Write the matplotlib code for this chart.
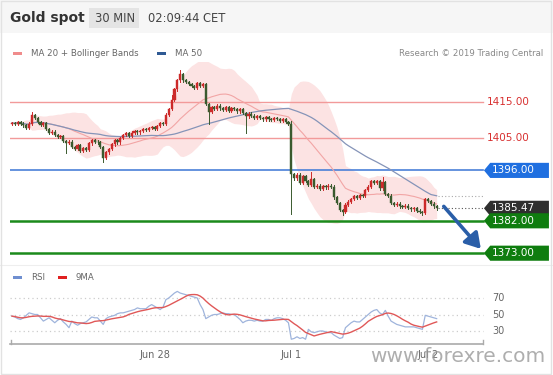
import numpy as np
import pandas as pd
import matplotlib
matplotlib.use("Agg")
import matplotlib.pyplot as plt
from matplotlib.patches import Polygon, Rectangle

# 30 min closes, Gold spot
closes = [
    1409.2, 1409.0, 1409.5, 1409.0, 1408.5, 1407.8, 1409.0, 1411.3, 1410.5, 1409.5,
    1408.6, 1409.2, 1407.5, 1406.5, 1406.8, 1405.9, 1405.3, 1405.6, 1404.2, 1403.6,
    1404.0, 1402.5, 1402.0, 1403.0, 1401.5, 1402.2, 1401.8, 1403.5, 1404.4, 1404.0,
    1403.8, 1402.5, 1399.5, 1401.0, 1402.0, 1403.2, 1404.4, 1403.8, 1405.0, 1405.8,
    1406.4, 1405.6, 1406.5, 1407.0, 1406.6, 1407.0, 1407.4, 1407.2, 1407.8, 1408.0,
    1407.5, 1408.3, 1409.2, 1409.0, 1411.5, 1413.0, 1415.5, 1418.5, 1421.0, 1422.8,
    1421.0, 1420.5, 1420.0, 1419.5, 1419.0, 1420.2, 1419.4, 1420.0, 1414.5, 1412.2,
    1413.5, 1413.0, 1414.0, 1413.2, 1412.8, 1413.5, 1412.6, 1413.2, 1413.0, 1412.4,
    1413.0, 1412.0, 1411.0, 1411.8, 1411.2, 1410.6, 1411.0, 1410.5, 1410.2, 1410.8,
    1410.2, 1410.0, 1410.6, 1410.3, 1409.8, 1410.2, 1409.5, 1409.0, 1395.0, 1393.8,
    1394.8, 1392.5, 1394.5, 1393.0, 1392.0, 1393.5, 1391.5, 1391.8, 1390.8, 1391.6,
    1391.3, 1391.8, 1391.5, 1388.5, 1387.0, 1385.0, 1384.5, 1386.5, 1387.3, 1388.0,
    1388.8, 1388.4, 1389.2, 1389.0, 1390.5, 1391.5, 1393.0, 1392.5, 1393.0, 1391.0,
    1392.8, 1389.5, 1389.0, 1387.0, 1386.4, 1386.8, 1386.0, 1385.8, 1386.2, 1385.5,
    1385.2, 1385.6, 1384.8, 1384.5, 1384.2, 1388.0, 1387.5, 1386.8, 1386.0, 1385.47,
]
first_open = 1409.0
high_spikes = {7: 1412.3, 59: 1424.0, 56: 1417.0, 105: 1395.5, 130: 1394.2, 98: 1409.6}
low_spikes = {19: 1400.8, 32: 1398.3, 69: 1408.8, 82: 1406.4, 98: 1383.8, 116: 1383.5, 144: 1383.6}

# RSI(14)
rsi_values = [
    48, 47, 45, 44, 46, 49, 52, 51, 50, 50,
    46, 42, 44, 46, 43, 40, 43, 45, 41, 38,
    34, 42, 39, 37, 39, 40, 41, 44, 47, 46,
    46, 42, 38, 45, 47, 48, 49, 51, 52, 52,
    53, 54, 55, 56, 58, 57, 57, 57, 60, 62,
    60, 58, 56, 59, 68, 70, 73, 76, 78, 76,
    75, 74, 73, 72, 71, 70, 62, 56, 45, 47,
    49, 50, 50, 51, 52, 51, 51, 50, 50, 47,
    44, 40, 42, 43, 43, 42, 43, 42, 42, 44,
    44, 43, 45, 46, 46, 45, 43, 40, 20, 21,
    23, 21, 22, 20, 32, 29, 28, 29, 30, 30,
    29, 28, 28, 25, 23, 21, 22, 34, 37, 40,
    42, 41, 41, 44, 47, 50, 53, 55, 56, 52,
    50, 55, 48, 42, 40, 38, 37, 36, 35, 35,
    35, 35, 34, 33, 32, 49, 48, 47, 46, 45,
]

levels_red = [1415.0, 1405.0]
level_blue = 1396.0
levels_green = [1382.0, 1373.0]
last_price = 1385.47

day_ticks = [50, 98, 146]
day_labels = ["Jun 28", "Jul 1", "Jul 2"]
rsi_ticks = [70, 50, 30]

# indicators
s = pd.Series(closes)
ma20 = s.rolling(20, min_periods=1).mean()
sd20 = s.rolling(20, min_periods=2).std().bfill()
ma50 = s.rolling(50, min_periods=1).mean()
rsi = pd.Series(rsi_values, dtype=float)
rsi_ma = rsi.rolling(9, min_periods=1).mean()

W, H = 553, 375
fig = plt.figure(figsize=(W / 100, H / 100), dpi=100)
fig.patch.set_facecolor("white")


def fx(px):
    return px / W


def fy(py):
    return 1 - py / H


# header
fig.patches.append(Rectangle((0, fy(33)), 1, 33 / H, transform=fig.transFigure,
                             facecolor="#f6f6f6", edgecolor="none", zorder=0))
fig.patches.append(Rectangle((fx(89), fy(28)), 50 / W, 20 / H, transform=fig.transFigure,
                             facecolor="#e4e4e4", edgecolor="none", zorder=1))
fig.patches.append(Rectangle((0.002, 0.003), 0.995, 0.994, transform=fig.transFigure,
                             facecolor="none", edgecolor="#e2e2e2", lw=1, zorder=5))
fig.text(fx(10), fy(18), "Gold spot", fontsize=10, fontweight="bold", color="#333333", va="center")
fig.text(fx(95), fy(18), "30 MIN", fontsize=8.3, color="#444444", va="center")
fig.text(fx(148), fy(18), "02:09:44 CET", fontsize=8.3, color="#444444", va="center")

# legends
fig.patches.append(Rectangle((fx(13), fy(55)), 9 / W, 3 / H, transform=fig.transFigure,
                             facecolor="#f08c8c", edgecolor="none"))
fig.text(fx(31), fy(53.5), "MA 20 + Bollinger Bands", fontsize=6.2, color="#666666", va="center")
fig.patches.append(Rectangle((fx(157), fy(55)), 9 / W, 3 / H, transform=fig.transFigure,
                             facecolor="#2f5a94", edgecolor="none"))
fig.text(fx(175), fy(53.5), "MA 50", fontsize=6.2, color="#666666", va="center")
fig.text(fx(543), fy(53.5), "Research \u00a9 2019 Trading Central", fontsize=6.2,
         color="#888888", va="center", ha="right")

fig.patches.append(Rectangle((fx(13), fy(279)), 9 / W, 3 / H, transform=fig.transFigure,
                             facecolor="#6f8fd0", edgecolor="none"))
fig.text(fx(31), fy(277.5), "RSI", fontsize=6.2, color="#666666", va="center")
fig.patches.append(Rectangle((fx(58), fy(279)), 9 / W, 3 / H, transform=fig.transFigure,
                             facecolor="#e02020", edgecolor="none"))
fig.text(fx(76), fy(277.5), "9MA", fontsize=6.2, color="#666666", va="center")

# main price panel
px_per_bar = 2.85
x0 = (10 - 12) / px_per_bar
x1 = (553 - 12) / px_per_bar
xend = (483 - 12) / px_per_bar
ax = fig.add_axes([fx(10), fy(262), fx(543), 200 / H])
ax.set_xlim(x0, x1)
ppu = 3.6
ax.set_ylim(1415 - (262 - 102) / ppu, 1415 + (102 - 62) / ppu)
ax.axis("off")

idx = np.arange(len(closes))
ax.fill_between(idx, ma20 + 2 * sd20, ma20 - 2 * sd20, color="#fcdcdc", alpha=0.8, lw=0, zorder=1)
ax.plot(idx, ma20, color="#f2a5a5", lw=0.8, zorder=2)
ax.plot(idx, ma50, color="#8594b8", lw=0.9, zorder=2)

for y in levels_red:
    ax.plot([x0, xend], [y, y], color="#f29a9a", lw=1, zorder=1.5)
    ax.text(166.5, y, f"{y:.2f}", color="#d83030", fontsize=7.5, va="center", ha="left")
ax.plot([x0, xend], [level_blue, level_blue], color="#4a80d8", lw=1.2, zorder=1.5)
for y in levels_green:
    ax.plot([x0, xend], [y, y], color="#1b8a1b", lw=1.8, zorder=1.5)

opens = [first_open] + closes[:-1]
for i, (o, c) in enumerate(zip(opens, closes)):
    up = c >= o
    col = "#cc2a2a" if up else "#3a5a2e"
    hi = high_spikes.get(i, max(o, c) + 0.35)
    lo = low_spikes.get(i, min(o, c) - 0.35)
    ax.plot([i, i], [lo, hi], color=col, lw=0.7, zorder=3)
    ax.add_patch(Rectangle((i - 0.38, min(o, c)), 0.76, max(abs(c - o), 0.15),
                           facecolor=col, edgecolor=col, lw=0.3, zorder=4))

# dotted guides from last bar
n = len(closes) - 1
ax.plot([n + 0.5, xend], [last_price, last_price], color="#555555", lw=0.8, ls=(0, (1, 2)), zorder=2)
ax.plot([n + 0.5, xend], [ma50.iloc[-1], ma50.iloc[-1]], color="#aaaaaa", lw=0.8, ls=(0, (1, 2)), zorder=2)


def tag(y, text, color):
    h = 2.1
    pts = [(165.6, y), (167.8, y + h), (188.4, y + h), (188.4, y - h), (167.8, y - h)]
    ax.add_patch(Polygon(pts, closed=True, facecolor=color, edgecolor="none", zorder=5, clip_on=False))
    ax.text(168.5, y, text, color="white", fontsize=7.5, va="center", ha="left", zorder=6)


tag(level_blue, f"{level_blue:.2f}", "#1f6fe0")
tag(last_price, f"{last_price:.2f}", "#2f2f2f")
tag(levels_green[0], f"{levels_green[0]:.2f}", "#0f7d0f")
tag(levels_green[1], f"{levels_green[1]:.2f}", "#0f7d0f")

ax.annotate("", xy=(164.5, 1374.2), xytext=(151.5, 1386.0),
            arrowprops=dict(arrowstyle="-|>,head_length=0.9,head_width=0.55",
                            color="#2a5ea8", lw=2.6, shrinkA=0, shrinkB=0), zorder=6)

# separator
fig.lines.append(plt.Line2D([fx(0), fx(553)], [fy(265), fy(265)], transform=fig.transFigure,
                            color="#eeeeee", lw=0.8))

# RSI panel
rx = fig.add_axes([fx(10), fy(345), fx(543), 60 / H])
rx.set_xlim(x0, x1)
rppu = 0.825
rx.set_ylim(30 - 14 / rppu, 30 + 46 / rppu)
rx.axis("off")
for t in rsi_ticks:
    rx.plot([x0, xend], [t, t], color="#cccccc", lw=0.9, ls=(0, (1, 2.5)), zorder=1)
    rx.text(168.5, t, str(t), color="#666666", fontsize=7, va="center", ha="left")
rx.plot(idx, rsi, color="#9fb4dc", lw=0.9, zorder=2)
rx.plot(idx, rsi_ma, color="#e05858", lw=1.0, zorder=3)

# time axis bracket
fig.lines.append(plt.Line2D([fx(10), fx(483)], [fy(344), fy(344)], transform=fig.transFigure,
                            color="#aaaaaa", lw=1.2))
for xp in (10.5, 482.5):
    fig.lines.append(plt.Line2D([fx(xp), fx(xp)], [fy(344), fy(340)], transform=fig.transFigure,
                                color="#aaaaaa", lw=1.0))
for t, lab in zip(day_ticks, day_labels):
    fig.text(fx(12 + t * px_per_bar), fy(355), lab, fontsize=7, color="#666666", ha="center", va="center")

fig.text(fx(545), fy(357), "www.forexre.com", fontsize=14.5, color="#9a9a9a", alpha=0.8,
         ha="right", va="center")

fig.savefig("out.png", dpi=100)
